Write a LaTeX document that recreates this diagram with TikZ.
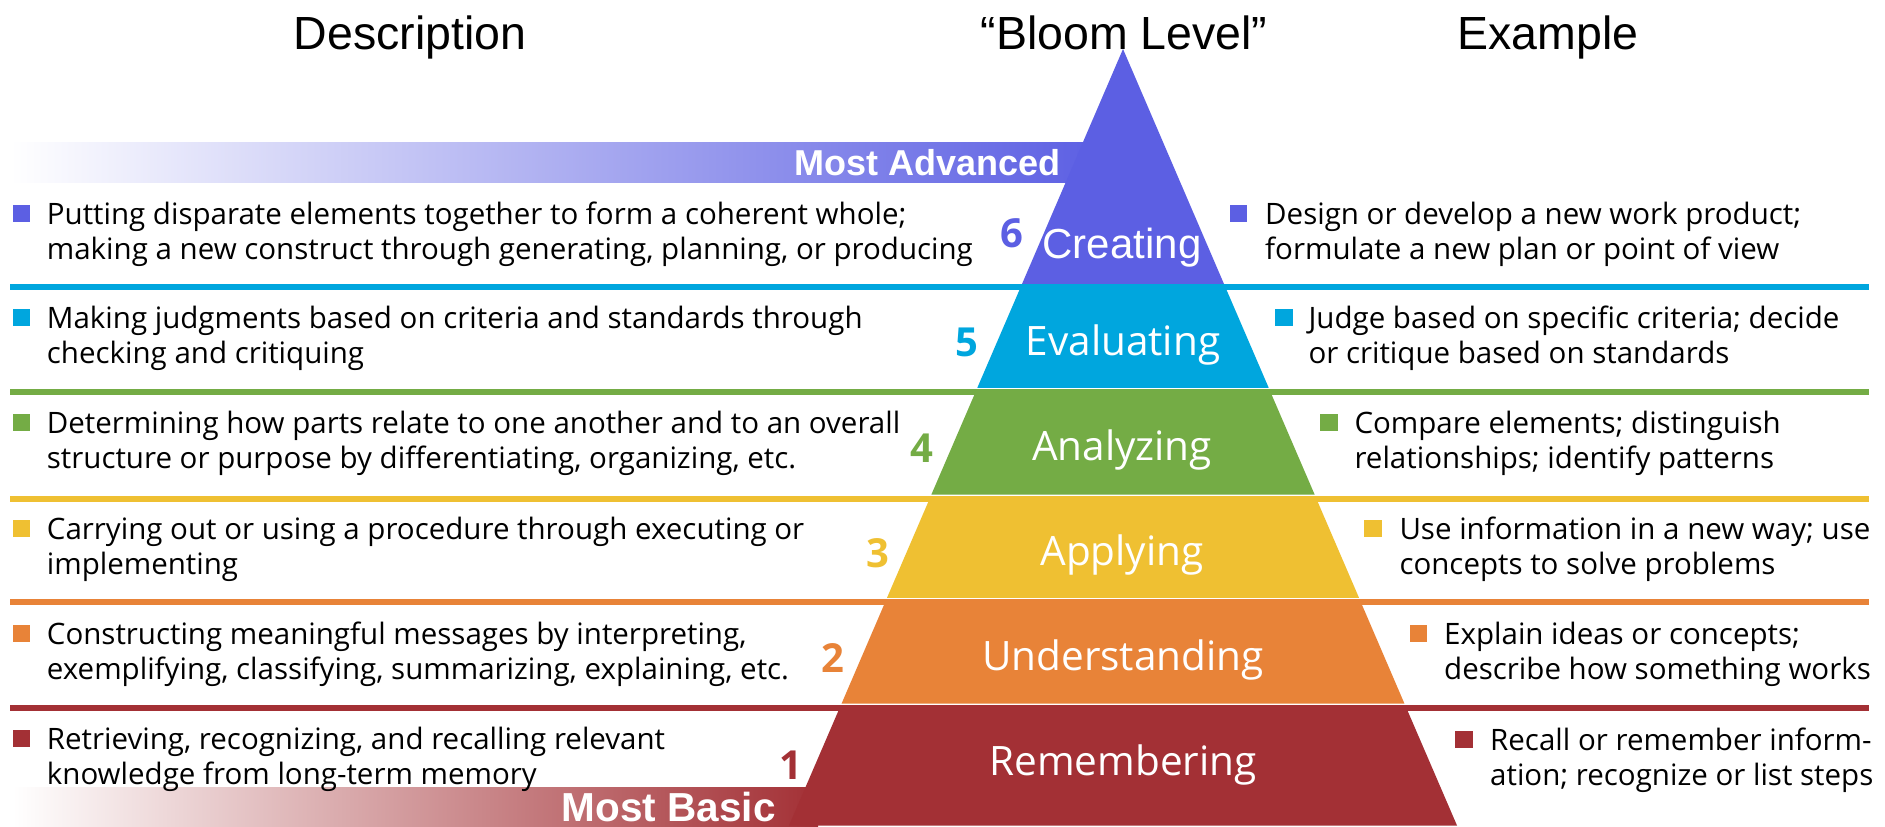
\documentclass[tikz,border=0pt]{standalone}
\usepackage{fontspec}
\setmainfont{Open Sans}
\newfontfamily\headfont{Liberation Sans}

\definecolor{cSix}{HTML}{5C5FE3}
\definecolor{cFive}{HTML}{00A6DE}
\definecolor{cFour}{HTML}{74AC45}
\definecolor{cThree}{HTML}{EFC032}
\definecolor{cTwo}{HTML}{E88338}
\definecolor{cOne}{HTML}{A33035}

\begin{document}
\begin{tikzpicture}[x=1pt,y=-1pt,
  bodytext/.style={anchor=base west, inner sep=0pt, text=black},
  bulletsq/.style={rectangle, inner sep=0pt, minimum width=17.5pt, minimum height=17pt},
  levelname/.style={anchor=base, inner sep=0pt, text=white, font=\fontsize{40.5}{41}\selectfont},
  levelnum/.style={anchor=base, inner sep=0pt, font=\fontsize{40}{40}\selectfont\bfseries},
  heading/.style={anchor=base, inner sep=0pt, font=\headfont\fontsize{46.5}{47}\selectfont},
  bandlabel/.style={anchor=base east, inner sep=0pt, text=white, font=\headfont\bfseries\fontsize{36}{36}\selectfont}
]
\newcommand{\twolines}[2]{\parbox[t]{980pt}{\fontsize{29.5}{35}\selectfont #1\\#2}}
\useasboundingbox (0,0) rectangle (1885,827);
\fill[white] (0,0) rectangle (1885,827);

% column headings
\node[heading] (hdesc) at (410,49) {Description};
\node[heading] (hlevel) at (1124,49) {“Bloom Level”};
\node[heading] (hex) at (1548,49) {Example};

% gradient bands behind the pyramid
\shade[left color=white, right color=cSix] (10,142) rectangle (1100,182);
\shade[left color=white, right color=cOne] (13,787) rectangle (818,827);

% pyramid tiers
\fill[cSix]   (1123,49) -- (1224,284) -- (1022,284) -- cycle;
\fill[cFive]  (1022,284) -- (1224,284) -- (1268.7,387.8) -- (977.3,387.8) -- cycle;
\fill[cFour]  (976.7,389.3) -- (1269.3,389.3) -- (1314.6,494.5) -- (931.4,494.5) -- cycle;
\fill[cThree] (930.8,496) -- (1315.2,496) -- (1359,597.8) -- (887,597.8) -- cycle;
\fill[cTwo]   (886.4,599.3) -- (1359.6,599.3) -- (1404.4,703.5) -- (841.6,703.5) -- cycle;
\fill[cOne]   (840.9,705) -- (1405.1,705) -- (1457,825.5) -- (789,825.5) -- cycle;

% separating rules
\fill[cFive]  (10,284)   rectangle (1869,289.7);
\fill[cFour]  (10,389.3) rectangle (1869,395);
\fill[cThree] (10,496)   rectangle (1869,501.7);
\fill[cTwo]   (10,599.3) rectangle (1869,605);
\fill[cOne]   (10,705)   rectangle (1869,710.7);

% band labels
\node[bandlabel] (adv) at (1061,175) {Most Advanced};
\node[bandlabel, font=\headfont\bfseries\fontsize{40.5}{41}\selectfont] (basic) at (776,821) {Most Basic};

% level names
\node[levelname, font=\headfont\fontsize{42}{42}\selectfont] (n6) at (1122,258) {Creating};
\node[levelname] (n5) at (1123,355) {Evaluating};
\node[levelname] (n4) at (1122,460) {Analyzing};
\node[levelname] (n3) at (1122,565) {Applying};
\node[levelname] (n2) at (1123,670) {Understanding};
\node[levelname] (n1) at (1123,775) {Remembering};

% level numbers
\node[levelnum, text=cSix]   (k6) at (1011.7,247) {6};
\node[levelnum, text=cFive]  (k5) at (966.6,356) {5};
\node[levelnum, text=cFour]  (k4) at (922,462) {4};
\node[levelnum, text=cThree] (k3) at (878,567) {3};
\node[levelnum, text=cTwo]   (k2) at (833,672) {2};
\node[levelnum, text=cOne]   (k1) at (790.5,779) {1};

% descriptions
\node[bulletsq, fill=cSix]   (bd6) at (21.7,213.8) {};
\node[bulletsq, fill=cFive]  (bd5) at (21.7,317.6) {};
\node[bulletsq, fill=cFour]  (bd4) at (21.7,422.6) {};
\node[bulletsq, fill=cThree] (bd3) at (21.7,528.3) {};
\node[bulletsq, fill=cTwo]   (bd2) at (21.7,633.3) {};
\node[bulletsq, fill=cOne]   (bd1) at (21.7,738.3) {};
\node[bodytext] (d6) at (46.7,224.5) {\twolines{Putting disparate elements together to form a coherent whole;}{making a new construct through generating, planning, or producing}};
\node[bodytext] (d5) at (46.7,328.3) {\twolines{Making judgments based on criteria and standards through}{checking and critiquing}};
\node[bodytext] (d4) at (46.7,433.3) {\twolines{Determining how parts relate to one another and to an overall}{structure or purpose by differentiating, organizing, etc.}};
\node[bodytext] (d3) at (46.7,539) {\twolines{Carrying out or using a procedure through executing or}{implementing}};
\node[bodytext] (d2) at (46.7,644) {\twolines{Constructing meaningful messages by interpreting,}{exemplifying, classifying, summarizing, explaining, etc.}};
\node[bodytext] (d1) at (46.7,749) {\twolines{Retrieving, recognizing, and recalling relevant}{knowledge from long-term memory}};

% examples
\node[bulletsq, fill=cSix]   (be6) at (1238.7,213.8) {};
\node[bulletsq, fill=cFive]  (be5) at (1284,317.6) {};
\node[bulletsq, fill=cFour]  (be4) at (1329,422.6) {};
\node[bulletsq, fill=cThree] (be3) at (1373,528.3) {};
\node[bulletsq, fill=cTwo]   (be2) at (1418.5,633.3) {};
\node[bulletsq, fill=cOne]   (be1) at (1464,739.3) {};
\node[bodytext] (e6) at (1265,224.5) {\twolines{Design or develop a new work product;}{formulate a new plan or point of view}};
\node[bodytext] (e5) at (1308.3,328.3) {\twolines{Judge based on specific criteria; decide}{or critique based on standards}};
\node[bodytext] (e4) at (1354.3,433.3) {\twolines{Compare elements; distinguish}{relationships; identify patterns}};
\node[bodytext] (e3) at (1399.3,539.5) {\twolines{Use information in a new way; use}{concepts to solve problems}};
\node[bodytext] (e2) at (1444,644) {\twolines{Explain ideas or concepts;}{describe how something works}};
\node[bodytext] (e1) at (1490,750) {\twolines{Recall or remember inform-}{ation; recognize or list steps}};
\end{tikzpicture}
\end{document}
